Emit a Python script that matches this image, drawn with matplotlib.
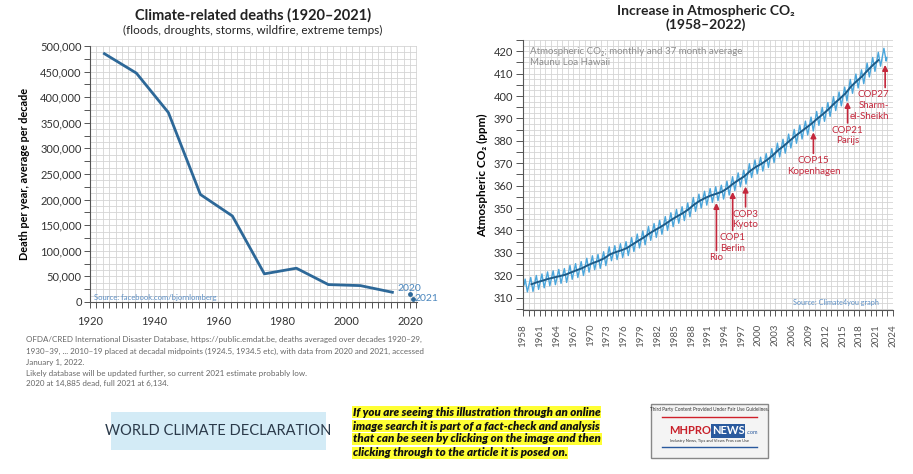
import matplotlib
matplotlib.use("Agg")
import matplotlib.pyplot as plt
import matplotlib.patches as patches
from matplotlib.ticker import MultipleLocator, FuncFormatter

plt.rcParams['font.family'] = ['Lato', 'DejaVu Sans']

# ---- data: climate related deaths (decadal midpoints) ----
death_years = [1924.5, 1934.5, 1944.5, 1954.5, 1964.5, 1974.5, 1984.5, 1994.5, 2004.5, 2014.5]
death_values = [485000, 447000, 370000, 210000, 168000, 55000, 66000, 34000, 32000, 19000]
recent_years = [2020, 2021]
recent_values = [14885, 6134]

# ---- data: Mauna Loa CO2 ----
co2_years = list(range(1958, 2023))
co2_peak = [318.3, 319.0, 319.9, 320.6, 321.5, 322.0, 322.6, 323.0, 324.4, 325.2,
            326.1, 327.6, 328.7, 329.3, 330.5, 332.7, 333.2, 334.1, 335.0, 336.8,
            338.4, 339.8, 341.8, 343.1, 344.5, 346.2, 347.9, 349.4, 350.6, 352.3,
            354.7, 356.2, 357.5, 358.7, 359.5, 360.2, 362.0, 364.0, 365.7, 366.9,
            369.8, 371.5, 372.7, 374.3, 376.5, 379.0, 380.7, 383.0, 385.1, 387.0,
            388.8, 390.6, 393.1, 394.9, 397.1, 399.7, 401.8, 404.0, 407.4, 409.8,
            411.7, 414.7, 417.2, 419.5, 421.3]
co2_trough = [312.6, 312.8, 313.7, 314.4, 315.3, 315.8, 316.4, 316.8, 318.2, 319.0,
              319.9, 321.4, 322.5, 323.1, 324.3, 326.5, 327.0, 327.9, 328.8, 330.6,
              332.2, 333.6, 335.6, 336.9, 338.3, 340.0, 341.7, 343.2, 344.4, 346.1,
              348.5, 350.0, 351.3, 352.5, 353.3, 354.0, 355.8, 357.8, 359.5, 360.7,
              363.6, 365.3, 366.5, 368.1, 370.3, 372.8, 374.5, 376.8, 378.9, 380.8,
              382.6, 384.4, 386.9, 388.7, 390.9, 393.5, 395.6, 397.8, 401.2, 403.6,
              405.5, 408.5, 411.0, 413.3, 415.6]
co2_start = (1958.2, 315.7)
co2_end = (2022.9, 417.2)
avg_years = [1959.5, 1960.5, 1961.5, 1962.5, 1963.5, 1964.5, 1965.5, 1966.5, 1967.5, 1968.5,
             1969.5, 1970.5, 1971.5, 1972.5, 1973.5, 1974.5, 1975.5, 1976.5, 1977.5, 1978.5,
             1979.5, 1980.5, 1981.5, 1982.5, 1983.5, 1984.5, 1985.5, 1986.5, 1987.5, 1988.5,
             1989.5, 1990.5, 1991.5, 1992.5, 1993.5, 1994.5, 1995.5, 1996.5, 1997.5, 1998.5,
             1999.5, 2000.5, 2001.5, 2002.5, 2003.5, 2004.5, 2005.5, 2006.5, 2007.5, 2008.5,
             2009.5, 2010.5, 2011.5, 2012.5, 2013.5, 2014.5, 2015.5, 2016.5, 2017.5, 2018.5,
             2019.5, 2020.5, 2021.4]
avg_values = [316.0, 316.9, 317.6, 318.4, 319.0, 319.6, 320.2, 321.2, 322.2, 323.1,
              324.4, 325.5, 326.4, 327.6, 329.3, 330.3, 331.1, 332.1, 333.7, 335.3,
              336.8, 338.6, 340.1, 341.5, 343.1, 344.8, 346.3, 347.7, 349.4, 351.5,
              353.2, 354.5, 355.6, 356.4, 357.3, 358.9, 360.9, 362.6, 364.2, 366.5,
              368.3, 369.7, 371.4, 373.4, 375.8, 377.7, 379.9, 382.0, 383.9, 385.8,
              387.7, 389.9, 391.9, 394.1, 396.6, 398.8, 401.1, 404.2, 406.6, 408.8,
              411.5, 414.0, 416.0]

cop_names = ["Rio", "COP1\nBerlin", "COP3\nKyoto", "COP15\nKopenhagen", "COP21\nParijs", "COP27\nSharm-\nel-Sheikh"]
cop_years = [1992.5, 1995.4, 1997.7, 2009.8, 2015.9, 2022.6]
cop_tip = [352.3, 357.2, 359.6, 383.8, 397.4, 413.9]
cop_tail = [331.0, 340.0, 350.5, 374.4, 388.0, 403.8]

gridc = '#d4d4d4'
red = '#c4283c'

fig = plt.figure(figsize=(9.13, 4.74), dpi=100)
W, H = 913.0, 474.0

# ================= left chart =================
ax1 = fig.add_axes([90 / W, 1 - 302 / H, 327 / W, 256 / H])
ax1.plot(death_years, death_values, color='#2d6898', lw=2.0)
ax1.scatter(recent_years, recent_values, color='#2d6898', s=6, zorder=3)
ax1.text(2019.8, 17000, "2020", color='#4a86bd', fontsize=7.5, ha='center', va='bottom')
ax1.text(2021.5, 6134, "2021", color='#4a86bd', fontsize=7.5, ha='left', va='center')
ax1.text(1921.2, 9000, "Source: facebook.com/bjornlomberg", color='#5b8ec4', fontsize=5.5, va='center')

ax1.set_xlim(1920, 2022.2)
ax1.set_ylim(0, 500000)
ax1.xaxis.set_major_locator(MultipleLocator(2))
ax1.xaxis.set_minor_locator(MultipleLocator(2))
ax1.yaxis.set_major_locator(MultipleLocator(25000))
ax1.yaxis.set_minor_locator(MultipleLocator(12500))
ax1.xaxis.set_major_formatter(FuncFormatter(lambda v, p: str(int(round(v))) if round(v) % 20 == 0 else ''))
ax1.yaxis.set_major_formatter(FuncFormatter(lambda v, p: '{:,}'.format(int(v)) if int(v) % 50000 == 0 else ''))
ax1.grid(which='both', color=gridc, lw=0.6)
ax1.set_axisbelow(True)
ax1.tick_params(which='major', length=4, width=0.7, color='#555555', labelsize=8, labelcolor='#333333', pad=2)
ax1.tick_params(axis='x', which='major', pad=6)
ax1.tick_params(which='minor', length=0)
for s in ['top', 'right']:
    ax1.spines[s].set_visible(False)
for s in ['left', 'bottom']:
    ax1.spines[s].set_color('#555555')
    ax1.spines[s].set_linewidth(0.8)
ax1.set_ylabel("Death per year, average per decade", fontsize=7.8, fontweight='bold')
ax1.yaxis.set_label_coords(-0.183, 0.5)

fig.text(253 / W, 1 - 15 / H, "Climate-related deaths (1920–2021)", fontsize=10.5, fontweight='bold',
         ha='center', va='center', color='#222222')
fig.text(253 / W, 1 - 30 / H, "(floods, droughts, storms, wildfire, extreme temps)", fontsize=8.5,
         ha='center', va='center', color='#222222')

notes = ["OFDA/CRED International Disaster Database, https://public.emdat.be, deaths averaged over decades 1920–29,",
         "1930–39, ... 2010–19 placed at decadal midpoints (1924.5, 1934.5 etc), with data from 2020 and 2021, accessed",
         "January 1, 2022.",
         "Likely database will be updated further, so current 2021 estimate probably low.",
         "2020 at 14,885 dead, full 2021 at 6,134."]
for i, line in enumerate(notes):
    fig.text(26 / W, 1 - [339, 351, 362, 373, 383][i] / H, line, fontsize=5.8, color='#666666', va='center')

# ================= right chart =================
ax2 = fig.add_axes([523 / W, 1 - 310 / H, 370 / W, 270 / H])
mx = [co2_start[0]]
my = [co2_start[1]]
for yr, pk, tr in zip(co2_years, co2_peak, co2_trough):
    mx += [yr + 0.38, yr + 0.78]
    my += [pk, tr]
mx.append(co2_end[0])
my.append(co2_end[1])
ax2.plot(mx, my, color='#4aa6dc', lw=1.0)
ax2.plot(avg_years, avg_values, color='#1d5a86', lw=1.4)

for name, yr, tip, tail in zip(cop_names, cop_years, cop_tip, cop_tail):
    ax2.annotate('', xy=(yr, tip), xytext=(yr, tail),
                 arrowprops=dict(arrowstyle='-|>', color=red, lw=1.2, mutation_scale=8, shrinkA=0, shrinkB=0))
    if name.startswith("COP27"):
        ax2.text(2023.3, tail - 1.2, name, color=red, fontsize=7, ha='right', va='top',
                 multialignment='right', linespacing=1.25)
    else:
        ax2.text(yr, tail - 1.2, name, color=red, fontsize=7, ha='center', va='top', linespacing=1.25)

ax2.text(1959.3, 420, "Atmospheric CO₂; monthly and 37 month average", color='#8c8c8c', fontsize=7, va='center')
ax2.text(1959.3, 415, "Maunu Loa Hawaii", color='#8c8c8c', fontsize=7, va='center')
ax2.text(2021.5, 308, "Source: Climate4you graph", color='#5b8ec4', fontsize=5.2, ha='right', va='center')

ax2.set_xlim(1958, 2024)
ax2.set_ylim(304.5, 425)
ax2.xaxis.set_major_locator(MultipleLocator(1))
ax2.xaxis.set_minor_locator(MultipleLocator(1))
ax2.yaxis.set_major_locator(MultipleLocator(5))
ax2.yaxis.set_minor_locator(MultipleLocator(2.5))
ax2.xaxis.set_major_formatter(FuncFormatter(lambda v, p: str(int(round(v))) if (round(v) - 1958) % 3 == 0 else ''))
ax2.yaxis.set_major_formatter(FuncFormatter(lambda v, p: str(int(v)) if int(round(v)) % 10 == 0 else ''))
ax2.grid(which='both', color=gridc, lw=0.6)
ax2.set_axisbelow(True)
ax2.tick_params(axis='x', which='major', length=4, width=0.7, color='#555555', labelsize=7,
                labelcolor='#555555', rotation=90, pad=6)
ax2.tick_params(axis='y', which='major', length=5, width=0.7, color='#555555', labelsize=8,
                labelcolor='#333333', pad=2)
ax2.tick_params(which='minor', length=0)
for s in ['top', 'right']:
    ax2.spines[s].set_visible(False)
for s in ['left', 'bottom']:
    ax2.spines[s].set_color('#555555')
    ax2.spines[s].set_linewidth(0.8)
ax2.set_ylabel("Atmospheric CO₂ (ppm)", fontsize=8.5, fontweight='bold')
ax2.yaxis.set_label_coords(-0.095, 0.5)

fig.text(706 / W, 1 - 11 / H, "Increase in Atmospheric CO₂", fontsize=10, fontweight='bold',
         ha='center', va='center', color='#222222')
fig.text(706 / W, 1 - 25 / H, "(1958–2022)", fontsize=10, fontweight='bold',
         ha='center', va='center', color='#222222')

# ================= bottom banner =================
fig.patches.append(patches.Rectangle((111 / W, 1 - 450 / H), 215 / W, 38 / H, transform=fig.transFigure,
                                     facecolor='#d3ebf6', edgecolor='none'))
fig.text(218 / W, 1 - 431 / H, "WORLD CLIMATE DECLARATION", fontsize=10.5, color='#2b3a4a',
         ha='center', va='center')

disclaimer = ["If you are seeing this illustration through an online",
              "image search it is part of a fact-check and analysis",
              "that can be seen by clicking on the image and then",
              "clicking through to the article it is posed on."]
for i, line in enumerate(disclaimer):
    fig.text(353 / W, 1 - [412, 426, 439, 453][i] / H, line, fontsize=8.3, fontweight='heavy', style='italic',
             color='#111111', va='center',
             bbox=dict(facecolor='#ffff33', edgecolor='none', pad=0.5))

# logo box
fig.patches.append(patches.Rectangle((651 / W, 1 - 458 / H), 117 / W, 54 / H, transform=fig.transFigure,
                                     facecolor='#f4f4f4', edgecolor='#888888', lw=1.0))
fig.text(709 / W, 1 - 409 / H, "Third Party Content Provided Under Fair Use Guidelines.", fontsize=3.4,
         color='#333333', ha='center', va='center')
fig.lines.append(plt.Line2D([662 / W, 757 / W], [1 - 417 / H, 1 - 417 / H], transform=fig.transFigure,
                            color='#d0202a', lw=1.0))
fig.text(690 / W, 1 - 431 / H, "MHPRO", fontsize=8, fontweight='bold', color='#c8202a',
         ha='center', va='center')
fig.text(728 / W, 1 - 431 / H, "NEWS", fontsize=8, fontweight='bold', color='white',
         ha='center', va='center',
         bbox=dict(facecolor='#2a5a9e', edgecolor='none', pad=0.8))
fig.text(747 / W, 1 - 433 / H, ".com", fontsize=4, color='#2a5a9e', ha='left', va='center')
fig.text(709 / W, 1 - 441 / H, "Industry News, Tips and Views Pros can Use", fontsize=3,
         color='#333333', ha='center', va='center')
fig.lines.append(plt.Line2D([662 / W, 757 / W], [1 - 447 / H, 1 - 447 / H], transform=fig.transFigure,
                            color='#2a5a9e', lw=1.0))

fig.savefig("out.png", dpi=100)
